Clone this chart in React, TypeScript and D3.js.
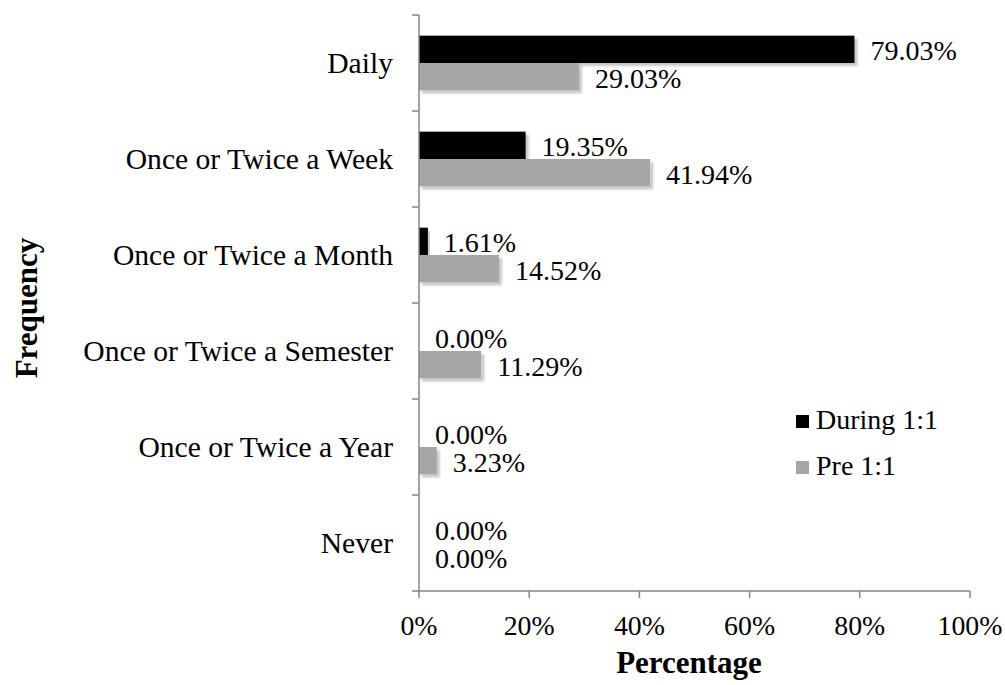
import React from "react";
import * as d3 from "d3";

const categories = [
  "Daily",
  "Once or Twice a Week",
  "Once or Twice a Month",
  "Once or Twice a Semester",
  "Once or Twice a Year",
  "Never",
];
const seriesNames = ["During 1:1", "Pre 1:1"];
const duringValues = [79.03, 19.35, 1.61, 0.0, 0.0, 0.0];
const preValues = [29.03, 41.94, 14.52, 11.29, 3.23, 0.0];
const xTicks = [0, 20, 40, 60, 80, 100];

const colors = ["#000000", "#a6a6a6"];
const axisColor = "#868686";
const font = "'Liberation Serif', 'Times New Roman', serif";

export default function App() {
  const w = 1005, h = 685;
  const left = 419, right = 970, top = 15, bottom = 591;

  const x = d3.scaleLinear().domain([0, 100]).range([left, right]);
  const y = d3
    .scaleBand<string>()
    .domain(categories)
    .range([top, bottom])
    .paddingInner(0.43)
    .paddingOuter(0.215);
  const sub = d3.scaleBand<string>().domain(seriesNames).range([0, y.bandwidth()]);

  const series = [duringValues, preValues];
  const step = y.step();
  // boundaries between categories for the little ticks on the y axis
  const yTickPos = d3.range(categories.length + 1).map((i) => top + i * step);

  return (
    <svg width={w} height={h} style={{ position: "absolute", left: 0, top: 0 }} fontFamily={font}>
      <defs>
        <filter id="shadow" x="-10%" y="-20%" width="130%" height="160%">
          <feDropShadow dx="3" dy="3" stdDeviation="1.2" floodColor="#000" floodOpacity="0.22" />
        </filter>
      </defs>
      <rect width={w} height={h} fill="#fff" />

      {/* bars */}
      {series.map((vals, si) =>
        vals.map((v, ci) =>
          v > 0 ? (
            <rect
              key={si + "-" + ci}
              x={x(0)}
              y={(y(categories[ci]) as number) + (sub(seriesNames[si]) as number)}
              width={x(v) - x(0)}
              height={sub.bandwidth()}
              fill={colors[si]}
              filter="url(#shadow)"
            />
          ) : null
        )
      )}

      {/* value labels */}
      {series.map((vals, si) =>
        vals.map((v, ci) => (
          <text
            key={"l" + si + "-" + ci}
            x={x(v) + 16}
            y={(y(categories[ci]) as number) + (sub(seriesNames[si]) as number) + sub.bandwidth() / 2 + 11}
            fontSize={28}
            fill="#000"
          >
            {v.toFixed(2) + "%"}
          </text>
        ))
      )}

      {/* y axis */}
      <line x1={left} x2={left} y1={top} y2={bottom} stroke={axisColor} strokeWidth={1.5} />
      {yTickPos.map((p, i) => (
        <line key={"yt" + i} x1={left - 7} x2={left} y1={p} y2={p} stroke={axisColor} strokeWidth={1.5} />
      ))}
      {categories.map((c) => (
        <text
          key={c}
          x={left - 26}
          y={(y(c) as number) + y.bandwidth() / 2 + 10}
          textAnchor="end"
          fontSize={29.6}
          fill="#000"
        >
          {c}
        </text>
      ))}

      {/* x axis */}
      <line x1={left} x2={right} y1={bottom} y2={bottom} stroke={axisColor} strokeWidth={1.5} />
      {xTicks.map((t) => (
        <g key={"xt" + t}>
          <line x1={x(t)} x2={x(t)} y1={bottom} y2={bottom + 7} stroke={axisColor} strokeWidth={1.5} />
          <text x={x(t)} y={635} textAnchor="middle" fontSize={27.8} fill="#000">
            {t + "%"}
          </text>
        </g>
      ))}

      {/* axis titles */}
      <text x={689} y={673} textAnchor="middle" fontSize={31} fontWeight="bold">
        Percentage
      </text>
      <text
        transform="translate(37,308) rotate(-90)"
        textAnchor="middle"
        fontSize={31}
        fontWeight="bold"
      >
        Frequency
      </text>

      {/* legend */}
      {seriesNames.map((s, i) => (
        <g key={s} transform={`translate(796,${415 + i * 46})`}>
          <rect width={13} height={13} fill={colors[i]} />
          <text x={20} y={14} fontSize={28} fill="#000">
            {s}
          </text>
        </g>
      ))}
    </svg>
  );
}
